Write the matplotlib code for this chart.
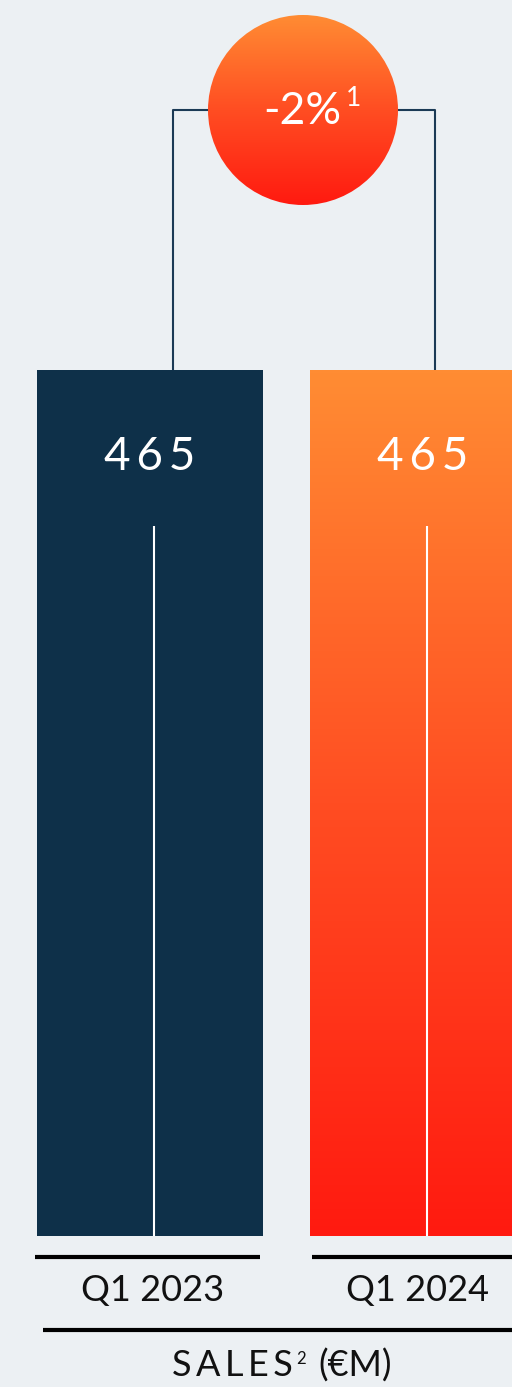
import matplotlib.pyplot as plt
from matplotlib.colors import LinearSegmentedColormap
from matplotlib.patches import Circle
import numpy as np

periods = ["Q1 2023", "Q1 2024"]
sales = [465, 465]
change = "-2%"
change_note = "1"
axis_title = "SALES"
axis_note = "2"
axis_unit = "(€M)"

bg = "#ECF0F3"
navy = "#0E3049"
grad = LinearSegmentedColormap.from_list("og", ["#FF1A10", "#FF4D22", "#FF8C33"])
plt.rcParams['font.family'] = ['Lato', 'DejaVu Sans']

W, H = 512, 1387
fig = plt.figure(figsize=(W / 100, H / 100), dpi=100, facecolor=bg)

# pixel overlay for decorations
ov = fig.add_axes([0, 0, 1, 1])
ov.set_xlim(0, W)
ov.set_ylim(H, 0)
ov.axis("off")
ov.set_facecolor(bg)

# bar axes
bar_top, bar_bot = 370, 1236
pitch = 273
c0 = 150
ax = fig.add_axes([0, 1 - bar_bot / H, 1, (bar_bot - bar_top) / H])
ax.axis("off")
ax.patch.set_alpha(0)

x = np.arange(len(periods))
width = 226 / pitch
bars = ax.bar(x, sales, width=width, color=[navy, "none"], zorder=2)
g = np.linspace(0, 1, 256).reshape(-1, 1)
b = bars[1]
im = ax.imshow(g, cmap=grad, aspect="auto", origin="lower",
               extent=[b.get_x(), b.get_x() + b.get_width(), 0, b.get_height()], zorder=2)
im.set_clip_path(b)
ax.set_xlim(-c0 / pitch, (W - c0) / pitch)
ax.set_ylim(0, max(sales))
ax.vlines(x + 0.015, 0, np.array(sales) * 0.82, color="white", lw=1.5, zorder=3)
for xi, v in zip(x, sales):
    ax.text(xi, v * 0.9, "\u2009".join(str(v)), color="white", ha="center", va="center",
            fontsize=33)

# connector + change bubble
lc = "#1B3A55"
ov.plot([173, 173, 300], [bar_top, 110, 110], color=lc, lw=1.5, zorder=1)
ov.plot([300, 435, 435], [110, 110, bar_top], color=lc, lw=1.5, zorder=1)
circ = Circle((303, 110), 95, facecolor="none", edgecolor="none", zorder=2)
ov.add_patch(circ)
ci = ov.imshow(g[::-1], cmap=grad, aspect="auto", extent=[208, 398, 205, 15], zorder=2)
ci.set_clip_path(circ)
ov.set_xlim(0, W)
ov.set_ylim(H, 0)
ov.text(302, 112, change, color="white", ha="center", va="center", fontsize=32, zorder=3)
ov.text(354, 99, change_note, color="white", ha="center", va="center", fontsize=19, zorder=3)

# category underlines and labels
for xi, lab in zip(x, periods):
    cx = c0 + xi * pitch
    ov.plot([cx - 115 + 4 * xi, cx + 110], [1257, 1257], color="black", lw=3,
            solid_capstyle="butt")
    ov.text(cx + 3 - 8 * xi, 1290, lab, ha="center", va="center", fontsize=26,
            color="#111111")

ov.plot([43, W], [1330, 1330], color="black", lw=3, solid_capstyle="butt")

# axis title laid out piece by piece
fig.canvas.draw()
r = fig.canvas.get_renderer()
t1 = ov.text(172, 1366, "\u2009".join(axis_title), ha="left", va="center", fontsize=26,
             color="#111111")
x1 = ov.transData.inverted().transform(t1.get_window_extent(r).get_points())[1, 0]
t2 = ov.text(x1 + 3, 1359, axis_note, ha="left", va="center", fontsize=12, color="#111111")
x2 = ov.transData.inverted().transform(t2.get_window_extent(r).get_points())[1, 0]
ov.text(x2 + 13, 1366, axis_unit, ha="left", va="center", fontsize=26, color="#111111")

fig.savefig("out.png", dpi=100, facecolor=bg)
